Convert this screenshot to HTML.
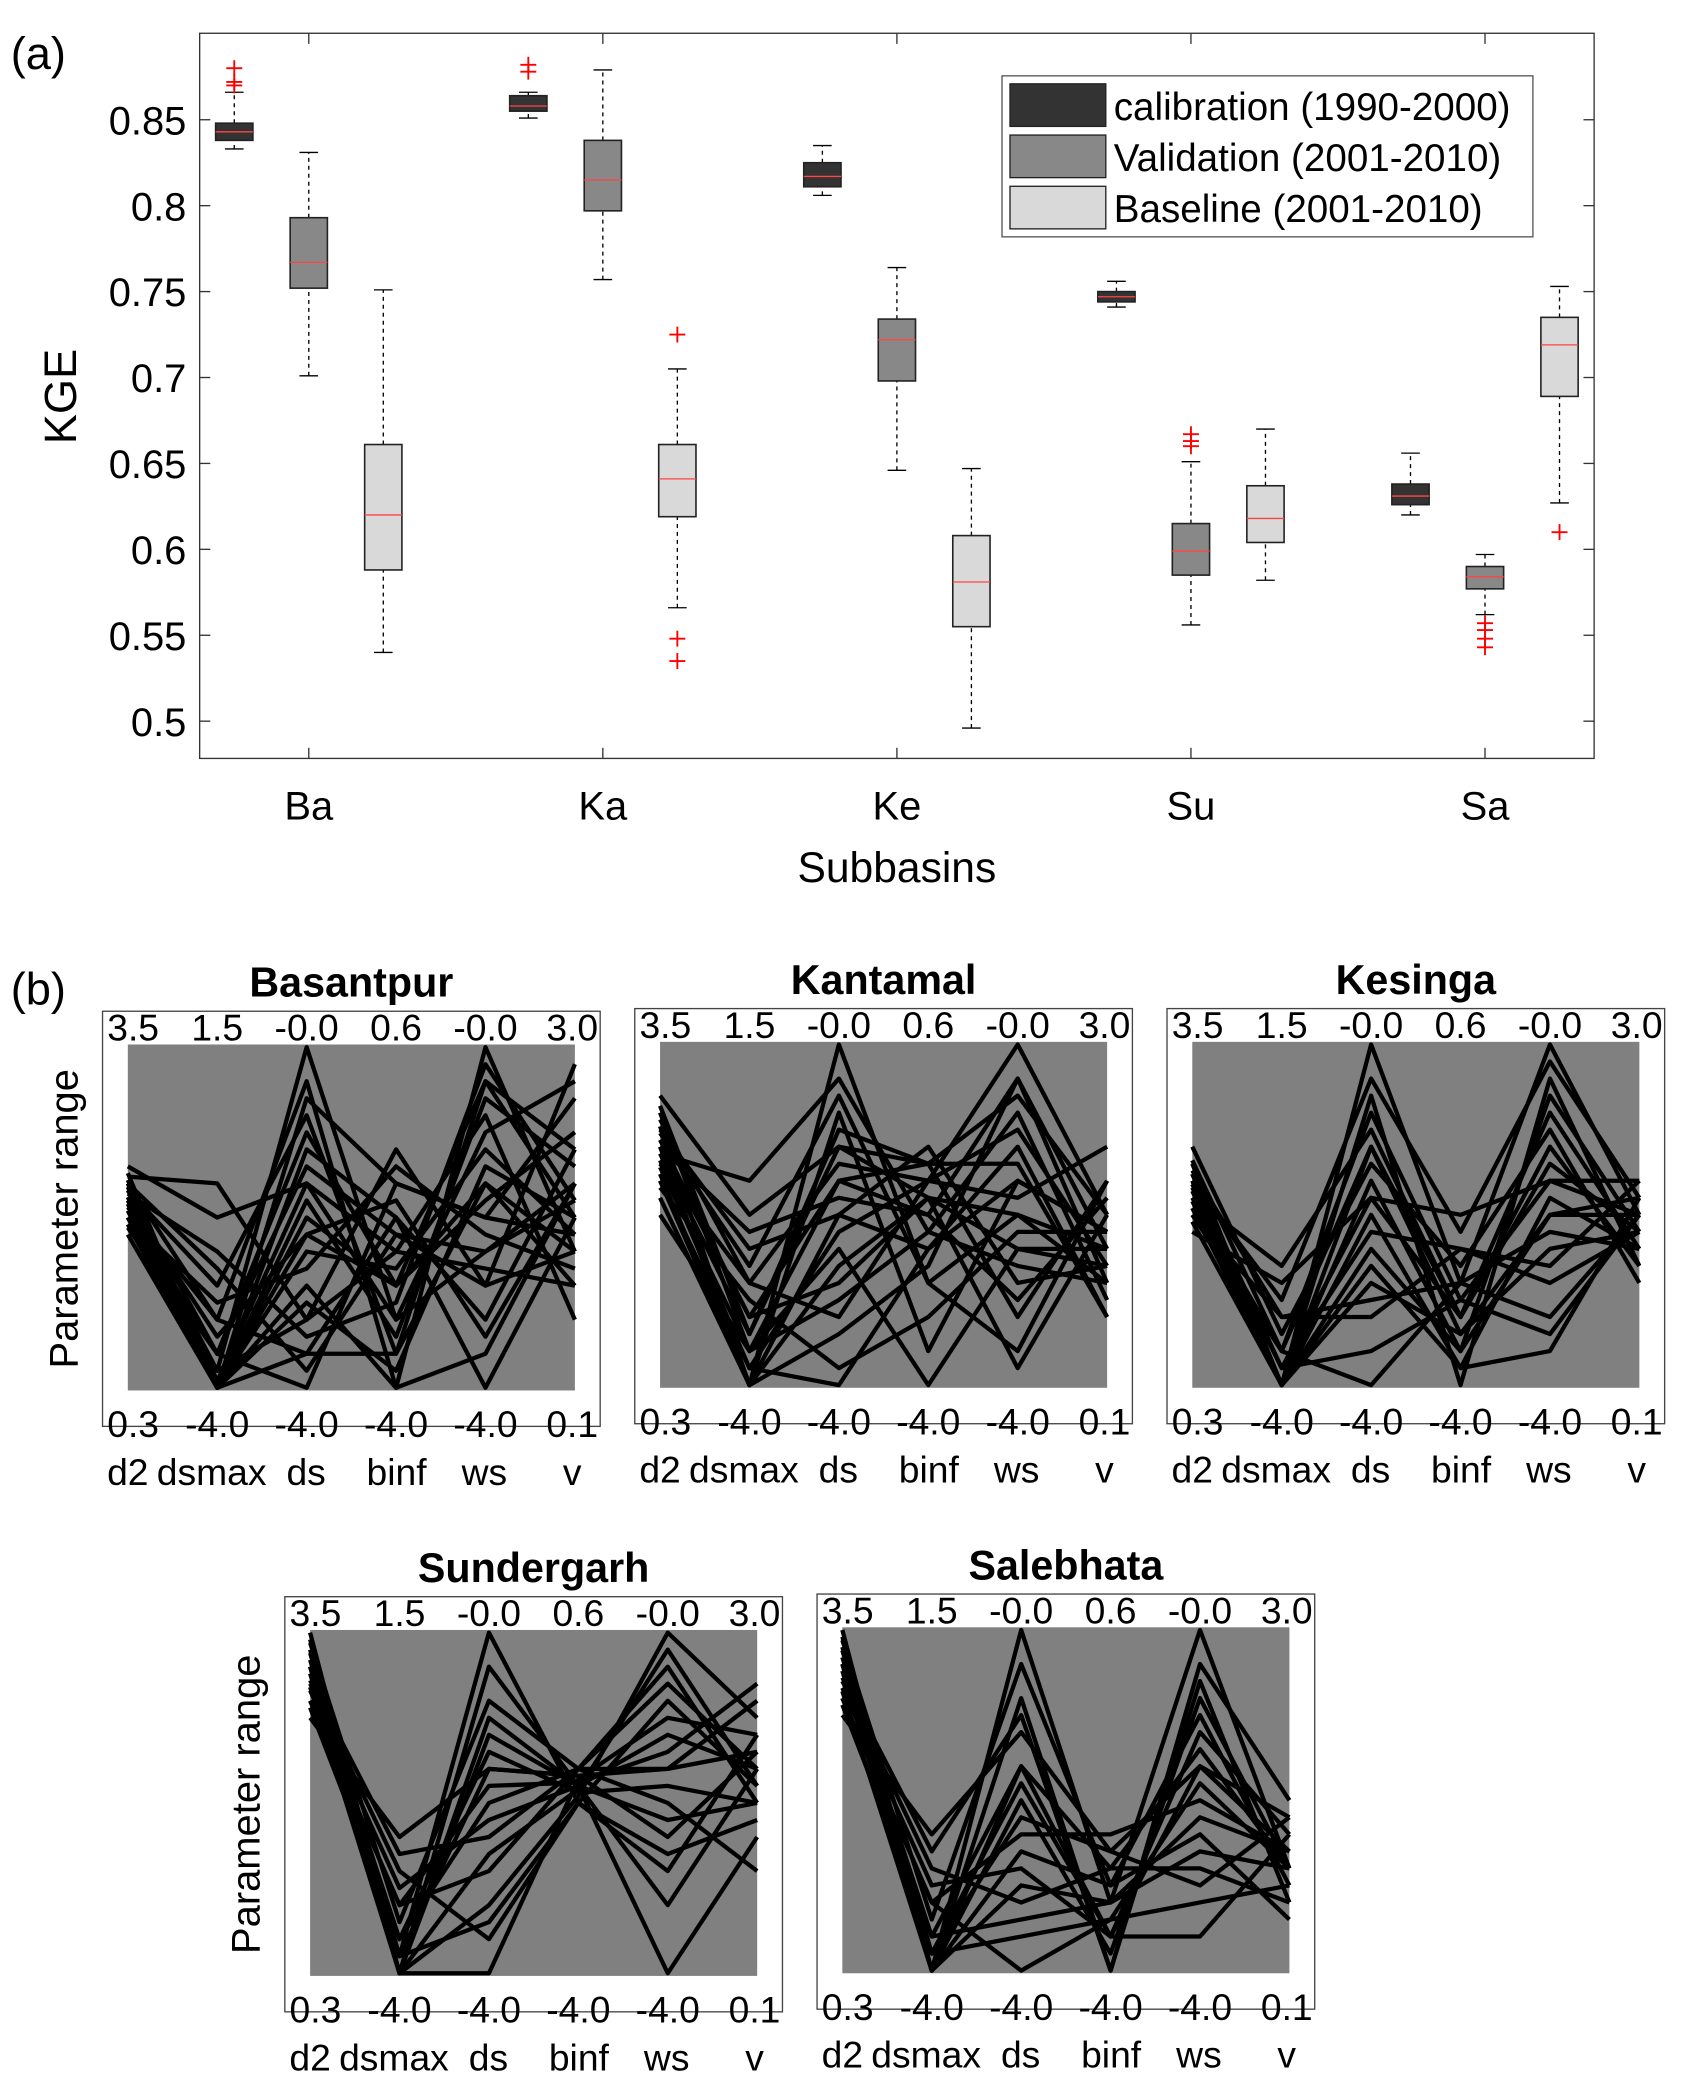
<!DOCTYPE html>
<html><head><meta charset="utf-8"><style>
html,body{margin:0;padding:0;background:#fff;}
svg{display:block;font-family:"Liberation Sans",sans-serif;}
</style></head><body>
<svg id="fig" width="1690" height="2097" viewBox="0 0 1270 1576" xmlns="http://www.w3.org/2000/svg">
<g id="pa"></g>
<g id="pb"></g>
</svg>
<script>
const NS="http://www.w3.org/2000/svg";
// ---- chart (a) data ----
const categories=["Ba","Ka","Ke","Su","Sa"];
const seriesNames=["calibration (1990-2000)","Validation (2001-2010)","Baseline (2001-2010)"];
const yTicks=[0.5,0.55,0.6,0.65,0.7,0.75,0.8,0.85];
const yTickLabels=["0.5","0.55","0.6","0.65","0.7","0.75","0.8","0.85"];
// [whiskerLow, q1, median, q3, whiskerHigh]
const calibStats=[[0.833,0.838,0.843,0.848,0.866],[0.851,0.855,0.858,0.864,0.866],[0.806,0.811,0.817,0.825,0.835],[0.741,0.744,0.747,0.750,0.756],[0.620,0.626,0.631,0.638,0.656]];
const validStats=[[0.701,0.752,0.767,0.793,0.831],[0.757,0.797,0.815,0.838,0.879],[0.646,0.698,0.722,0.734,0.764],[0.556,0.585,0.599,0.615,0.651],[0.562,0.577,0.584,0.590,0.597]];
const baseStats=[[0.540,0.588,0.620,0.661,0.751],[0.566,0.619,0.641,0.661,0.705],[0.496,0.555,0.581,0.608,0.647],[0.582,0.604,0.618,0.637,0.670],[0.627,0.689,0.719,0.735,0.753]];
const calibOut=[[0.870,0.872,0.880],[0.878,0.882],[],[],[]];
const validOut=[[],[],[],[0.660,0.663,0.667],[0.557,0.553,0.548,0.543]];
const baseOut=[[],[0.725,0.548,0.535],[],[],[0.610]];
// ---- chart (b) data ----
const paramNames=["d2","dsmax","ds","binf","ws","v"];
const topLabels=["3.5","1.5","-0.0","0.6","-0.0","3.0"];
const botLabels=["0.3","-4.0","-4.0","-4.0","-4.0","0.1"];
const panelTitles=["Basantpur","Kantamal","Kesinga","Sundergarh","Salebhata"];
const linesBasantpur=[[0.6,0.0,0.5,0.3,0.9,0.5],[0.55,0.05,1.0,0.2,0.4,0.6],[0.5,0.0,0.3,0.0,1.0,0.4],[0.62,0.6,0.2,0.7,0.3,0.95],[0.58,0.3,0.8,0.1,0.6,0.3],[0.45,0.0,0.1,0.5,0.2,0.7],[0.65,0.5,0.6,0.4,0.8,0.2],[0.52,0.1,0.0,0.6,0.5,0.85],[0.6,0.2,0.9,0.0,0.1,0.6],[0.48,0.0,0.4,0.35,0.7,0.45],[0.57,0.4,0.15,0.25,0.95,0.55],[0.63,0.0,0.7,0.5,0.0,0.5],[0.5,0.25,0.35,0.65,0.45,0.35],[0.54,0.0,0.55,0.15,0.85,0.65],[0.6,0.35,0.05,0.45,0.3,0.4],[0.47,0.1,0.75,0.3,0.55,0.75],[0.59,0.0,0.25,0.05,0.65,0.5],[0.55,0.15,0.45,0.55,0.15,0.6],[0.61,0.02,0.6,0.2,0.75,0.9],[0.5,0.05,0.2,0.4,0.35,0.3],[0.56,0.0,0.85,0.6,0.5,0.45],[0.53,0.2,0.1,0.1,0.9,0.7],[0.58,0.1,0.65,0.45,0.4,0.55],[0.52,0.0,0.45,0.3,0.6,0.4]];
const linesKantamal=[[0.8,0.1,0.6,0.5,0.9,0.4],[0.7,0.0,1.0,0.3,0.5,0.3],[0.65,0.3,0.2,0.6,1.0,0.5],[0.85,0.5,0.7,0.65,0.2,0.6],[0.6,0.05,0.0,0.4,0.7,0.2],[0.75,0.4,0.5,0.7,0.3,0.35],[0.55,0.0,0.8,0.1,0.6,0.45],[0.72,0.2,0.3,0.55,0.05,0.5],[0.68,0.6,0.9,0.45,0.8,0.25],[0.5,0.1,0.4,0.0,0.4,0.4],[0.78,0.3,0.65,0.6,0.55,0.7],[0.62,0.0,0.15,0.35,0.9,0.3],[0.7,0.45,0.55,0.5,0.25,0.55],[0.82,0.15,0.75,0.65,0.65,0.2],[0.58,0.25,0.05,0.2,0.45,0.45],[0.66,0.05,0.45,0.6,0.75,0.35],[0.74,0.35,0.85,0.3,0.1,0.6],[0.6,0.0,0.35,0.55,0.5,0.4],[0.7,0.2,0.6,0.65,0.85,0.5],[0.64,0.1,0.25,0.45,0.35,0.3],[0.76,0.0,0.5,0.4,0.6,0.45],[0.68,0.15,0.7,0.55,0.4,0.35]];
const linesKesinga=[[0.6,0.0,1.0,0.3,1.0,0.5],[0.55,0.1,0.7,0.2,0.8,0.4],[0.65,0.0,0.4,0.1,0.5,0.55],[0.5,0.2,0.2,0.4,0.3,0.45],[0.62,0.0,0.85,0.0,0.9,0.35],[0.45,0.3,0.55,0.5,0.6,0.6],[0.58,0.05,0.1,0.25,0.15,0.5],[0.7,0.15,0.65,0.35,0.75,0.3],[0.52,0.0,0.3,0.15,0.4,0.45],[0.6,0.25,0.9,0.45,0.95,0.55],[0.48,0.0,0.5,0.05,0.55,0.4],[0.66,0.1,0.0,0.3,0.2,0.5],[0.55,0.35,0.75,0.2,0.7,0.35],[0.6,0.05,0.45,0.4,0.35,0.6],[0.57,0.0,0.6,0.1,0.85,0.45],[0.63,0.2,0.25,0.3,0.45,0.4],[0.5,0.1,0.8,0.25,0.6,0.5],[0.59,0.0,0.35,0.05,0.1,0.55],[0.62,0.05,0.55,0.2,0.65,0.45],[0.54,0.0,0.7,0.15,0.5,0.5]];
const linesSundergarh=[[1.0,0.0,0.9,0.55,0.7,0.6],[0.9,0.1,0.5,0.6,0.9,0.5],[0.85,0.3,0.1,0.5,0.3,0.7],[0.95,0.0,0.7,0.55,0.0,0.4],[0.8,0.2,0.3,0.6,0.6,0.8],[0.92,0.05,1.0,0.5,0.8,0.55],[0.75,0.4,0.6,0.58,0.4,0.65],[0.88,0.0,0.2,0.52,1.0,0.75],[0.97,0.15,0.8,0.6,0.5,0.3],[0.83,0.25,0.45,0.55,0.2,0.6],[0.9,0.0,0.0,0.57,0.75,0.7],[0.78,0.1,0.65,0.53,0.55,0.5],[0.86,0.35,0.4,0.6,0.85,0.6],[0.94,0.05,0.15,0.5,0.35,0.45],[0.8,0.2,0.55,0.56,0.65,0.85],[0.9,0.0,0.35,0.54,0.95,0.55],[0.98,0.05,0.6,0.58,0.6,0.65],[0.84,0.0,0.75,0.55,0.45,0.5]];
const linesSalebhata=[[1.0,0.0,1.0,0.2,1.0,0.3],[0.9,0.1,0.6,0.1,0.7,0.4],[0.85,0.3,0.2,0.3,0.3,0.2],[0.95,0.0,0.8,0.0,0.9,0.5],[0.8,0.2,0.4,0.4,0.5,0.35],[0.92,0.05,0.1,0.15,0.2,0.25],[0.75,0.4,0.7,0.35,0.6,0.45],[0.88,0.0,0.5,0.05,0.8,0.3],[0.97,0.15,0.9,0.25,0.4,0.15],[0.83,0.25,0.3,0.1,0.1,0.4],[0.9,0.0,0.6,0.3,0.65,0.3],[0.78,0.1,0.15,0.2,0.45,0.35],[0.86,0.35,0.75,0.0,0.85,0.2],[0.94,0.05,0.45,0.35,0.25,0.45],[0.8,0.2,0.0,0.15,0.55,0.3],[0.9,0.0,0.35,0.25,0.75,0.25],[0.98,0.05,0.55,0.1,0.6,0.35],[0.82,0.0,0.25,0.2,0.35,0.3]];
const panelLines=[linesBasantpur,linesKantamal,linesKesinga,linesSundergarh,linesSalebhata];

function mk(tag,attrs,parent,name,inter){const e=document.createElementNS(NS,tag);for(const k in attrs)e.setAttribute(k,attrs[k]);


parent.appendChild(e);return e;}
function txt(parent,x,y,s,size,name,anchor,weight,extra){const t=mk('text',Object.assign({x:x,y:y,'font-size':size,'text-anchor':anchor||'middle','font-weight':weight||'normal',fill:'#000'},extra||{}),parent,name,false);t.textContent=s;return t;}

// ---- (a) ----
const A=document.getElementById('pa');
const X0=150,X1=1198,Y0=25,Y1=570;
const ymap=v=>542-(v-0.5)*(452/0.35);
const xcat=i=>232+i*221;
mk('rect',{x:X0,y:Y0,width:X1-X0,height:Y1-Y0,fill:'#fff',stroke:'#333','stroke-width':1},A,'plot-frame',false);
yTicks.forEach((v,i)=>{const y=ymap(v);
mk('line',{x1:X0,x2:X0+8,y1:y,y2:y,stroke:'#333'},A,'y-tick',false);
mk('line',{x1:X1,x2:X1-8,y1:y,y2:y,stroke:'#333'},A,'y-tick-right',false);
txt(A,X0-10,y+11,yTickLabels[i],30,'y-tick-label','end');});
categories.forEach((c,i)=>{const x=xcat(i);
mk('line',{x1:x,x2:x,y1:Y1,y2:Y1-8,stroke:'#333'},A,'x-tick',false);
mk('line',{x1:x,x2:x,y1:Y0,y2:Y0+8,stroke:'#333'},A,'x-tick-top',false);
txt(A,x,616,c,30,'x-tick-label');});
txt(A,674,663,'Subbasins',32,'x-axis-title');
txt(A,57,298,'KGE',34,'y-axis-title','middle','normal',{transform:'rotate(-90 57 298)'});
txt(A,8,52,'(a)',34,'panel-label-a','start');
const fills=['#333333','#888888','#d9d9d9'];
const stats=[calibStats,validStats,baseStats];const outs=[calibOut,validOut,baseOut];
const keys=['calibration','validation','baseline'];
stats.forEach((S,s)=>{S.forEach((st,i)=>{const x=xcat(i)+(s-1)*56;const w=28;
const g=mk('g',{},A,'box-'+keys[s]+'-'+categories[i].toLowerCase(),false);
mk('line',{x1:x,x2:x,y1:ymap(st[0]),y2:ymap(st[1]),stroke:'#000','stroke-dasharray':'3,3'},g,'whisker-low',false);
mk('line',{x1:x,x2:x,y1:ymap(st[3]),y2:ymap(st[4]),stroke:'#000','stroke-dasharray':'3,3'},g,'whisker-high',false);
mk('line',{x1:x-7,x2:x+7,y1:ymap(st[0]),y2:ymap(st[0]),stroke:'#000'},g,'whisker-cap-low',false);
mk('line',{x1:x-7,x2:x+7,y1:ymap(st[4]),y2:ymap(st[4]),stroke:'#000'},g,'whisker-cap-high',false);
mk('rect',{x:x-w/2,y:ymap(st[3]),width:w,height:ymap(st[1])-ymap(st[3]),fill:fills[s],stroke:'#222','stroke-width':1.2},g,'box-iqr',false);
mk('line',{x1:x-w/2,x2:x+w/2,y1:ymap(st[2]),y2:ymap(st[2]),stroke:'#f44','stroke-width':1},g,'median-line',false);
outs[s][i].forEach(o=>{const y=ymap(o);
mk('path',{d:`M${x-6} ${y}H${x+6}M${x} ${y-6}V${y+6}`,stroke:'#f00','stroke-width':1.4},g,'outlier',false);});
});});
const L=mk('g',{},A,'legend',false);
mk('rect',{x:753,y:57,width:399,height:121,fill:'#fff',stroke:'#555'},L,'legend-frame',false);
seriesNames.forEach((n,i)=>{const y=63+i*38.5;
mk('rect',{x:759,y:y,width:72,height:32,fill:fills[i],stroke:'#222'},L,'legend-swatch',false);
txt(L,837,y+27,n,29,'legend-entry','start');});

// ---- (b) ----
const B=document.getElementById('pb');
txt(B,8,755,'(b)',34,'panel-label-b','start');
const offs=[[0,0],[400,-2],[800,-2],[137,440],[537,438]];
offs.forEach((o,p)=>{const dx=o[0],dy=o[1];
const g=mk('g',{transform:`translate(${dx},${dy})`},B,'panel-'+panelTitles[p].toLowerCase(),false);
const ax=i=>96+i*67.2;const ny=v=>1043-v*256;
mk('rect',{x:77,y:760,width:374,height:312,fill:'#fff',stroke:'#444'},g,'panel-frame',false);
mk('rect',{x:96,y:785,width:336,height:260,fill:'#808080'},g,'gray-range-band',false);
panelLines[p].forEach(l=>{mk('polyline',{points:l.map((v,i)=>ax(i)+','+ny(v)).join(' '),fill:'none',stroke:'#000','stroke-width':3.2,'stroke-linejoin':'round'},g,'parameter-line',false);});
txt(g,264,749,panelTitles[p],31,'panel-title','middle','bold');
paramNames.forEach((n,i)=>{
txt(g,ax(i)+(i==0?4:i==5?-2:0),782,topLabels[i],28,'top-range-label');
txt(g,ax(i)+(i==0?4:i==5?-2:0),1080,botLabels[i],28,'bottom-range-label');});
const nx=[96,159,230,298,364,430];
paramNames.forEach((n,i)=>txt(g,nx[i],1116,n,28,'param-name'));
if(p==0||p==3) txt(g,58,916,'Parameter range',30,'y-axis-title','middle','normal',{transform:'rotate(-90 58 916)'});
});
</script>
</body></html>
